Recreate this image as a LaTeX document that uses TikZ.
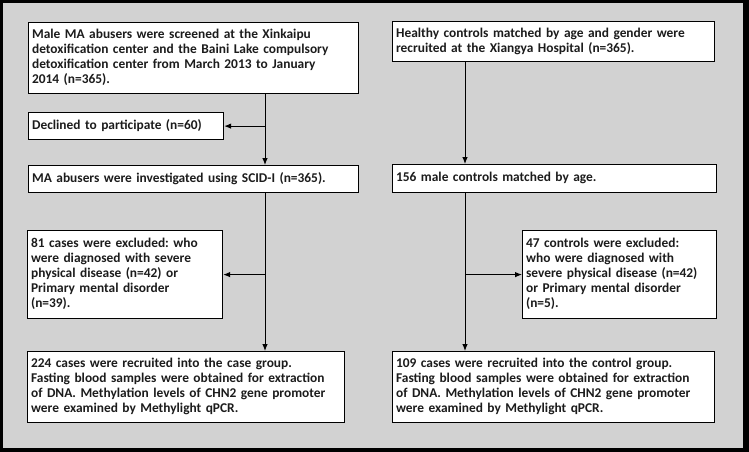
\documentclass[tikz,border=0pt]{standalone}
\usepackage{fontspec}
\setmainfont{Carlito}
\usetikzlibrary{arrows.meta}
\definecolor{bggrey}{RGB}{210,210,210}
\definecolor{txt}{RGB}{28,28,28}
\newcommand{\Lines}[1]{\begin{tabular}{@{}l@{}}#1\end{tabular}}
\frenchspacing
\begin{document}
\begin{tikzpicture}[x=1pt,y=-1pt,
  box/.style={draw=black, line width=1.2pt, fill=white, anchor=north west, align=left,
    inner xsep=3.5pt, inner ysep=0pt, text=txt,
    font=\bfseries\fontsize{13.4}{15}\selectfont},
  arr/.style={line width=0.9pt, -{Latex[length=7pt,width=5.5pt]}}]
\fill[black] (0,0) rectangle (749,452);
\fill[bggrey] (3,3) rectangle (743,448);
\useasboundingbox (0,0) rectangle (749,452);
% left column
\node[box, text width=323pt, minimum height=71pt] (b1) at (28,22)
 {\Lines{Male MA abusers were screened at the Xinkaipu\\detoxification center and the Baini Lake compulsory\\detoxification center from March 2013 to January\\2014 (n=365).}};
\node[box, text width=188pt, minimum height=27pt] (dec) at (28,112)
 {\Lines{Declined to participate (n=60)}};
\node[box, text width=323pt, minimum height=27pt] (ma) at (28,165)
 {\Lines{MA abusers were investigated using SCID-I (n=365).}};
\node[box, text width=188pt, minimum height=88pt] (exc) at (27,230)
 {\Lines{81 cases were excluded: who\\were diagnosed with severe\\physical disease (n=42) or\\Primary mental disorder\\(n=39).}};
\node[box, text width=310pt, minimum height=71pt] (case) at (27,351)
 {\Lines{224 cases were recruited into the case group.\\Fasting blood samples were obtained for extraction\\of DNA. Methylation levels of CHN2 gene promoter\\were examined by Methylight qPCR.}};
% right column
\node[box, text width=315pt, minimum height=40pt] (r1) at (392,21)
 {\Lines{Healthy controls matched by age and gender were\\recruited at the Xiangya Hospital (n=365).}};
\node[box, text width=317pt, minimum height=28pt] (r2) at (392,164)
 {\Lines{156 male controls matched by age.}};
\node[box, text width=187pt, minimum height=88pt] (r3) at (522,230)
 {\Lines{47 controls were excluded:\\who were diagnosed with\\severe physical disease (n=42)\\or Primary mental disorder\\(n=5).}};
\node[box, text width=315pt, minimum height=71pt] (ctl) at (392,351)
 {\Lines{109 cases were recruited into the control group.\\Fasting blood samples were obtained for extraction\\of DNA. Methylation levels of CHN2 gene promoter\\were examined by Methylight qPCR.}};
% connectors
\coordinate (L) at (265,0);
\coordinate (R) at (465,0);
\draw[arr] (b1.south -| L) -- (ma.north -| L);
\draw[arr] (L |- dec.east) -- (dec.east);
\draw[arr] (ma.south -| L) -- (case.north -| L);
\draw[arr] (L |- exc.east) -- (exc.east);
\draw[arr] (r1.south -| R) -- (r2.north -| R);
\draw[arr] (r2.south -| R) -- (ctl.north -| R);
\draw[arr] (R |- r3.west) -- (r3.west);
\end{tikzpicture}
\end{document}
